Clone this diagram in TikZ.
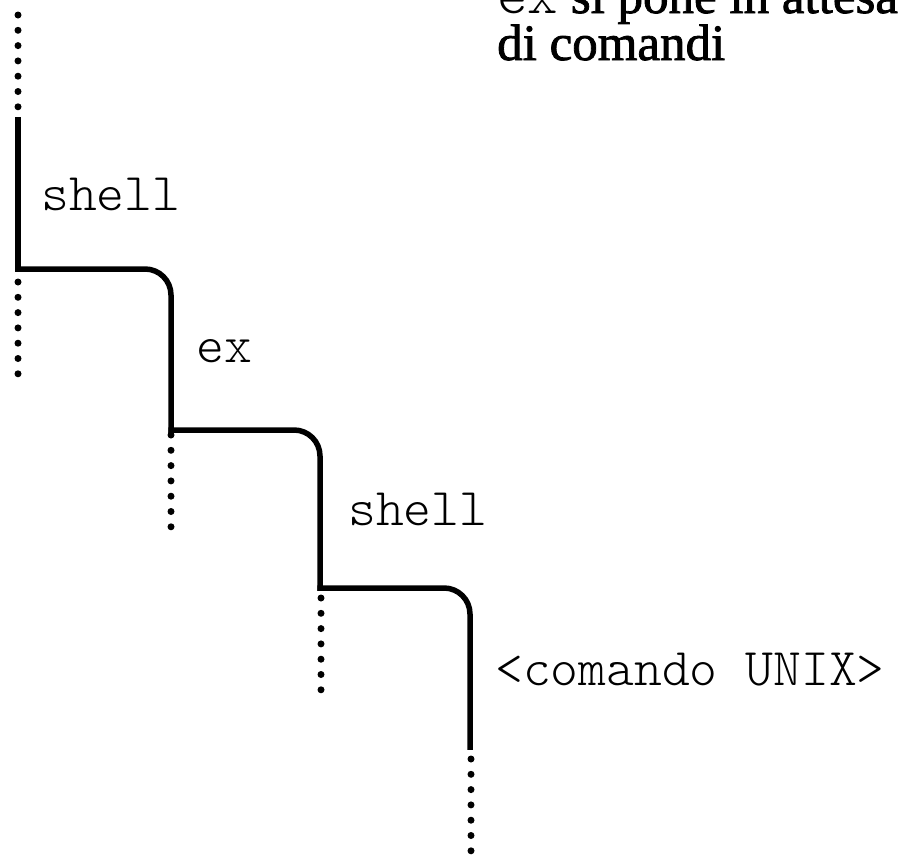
\documentclass[tikz,border=0pt]{standalone}
\usepackage{fontspec}
\setmainfont{Liberation Serif}
\newfontfamily\courlike{lmmonolt10-regular.otf}
\newfontfamily\titlefont[FakeBold=1.6]{Liberation Serif}
\begin{document}
\begin{tikzpicture}[x=1pt,y=-1pt,
  solidline/.style={line width=5.5pt, line cap=rect, line join=miter},
  stepcorner/.style={solidline, rounded corners=26pt},
  dotline/.style={line width=7pt, line cap=round, dash pattern=on 0pt off 15.3pt},
  lbl/.style={font=\fontsize{53}{56}\selectfont\courlike, inner sep=0pt, anchor=base west},
  ttl/.style={font=\fontsize{51}{53}\selectfont\titlefont, inner sep=0pt, anchor=base west}]
\useasboundingbox (0,0) rectangle (898,855);
% path points
\coordinate (a0) at (18,120);
\coordinate (a1) at (18,269);
\coordinate (b1) at (171,269);
\coordinate (b2) at (171,430);
\coordinate (c1) at (320,430);
\coordinate (c2) at (320,588);
\coordinate (d1) at (470,588);
\coordinate (d2) at (470,747);
% dotted continuations
\coordinate (t0) at (18,15);  \coordinate (t1) at (18,107);
\coordinate (u0) at (18,282); \coordinate (u1) at (18,374);
\coordinate (v0) at (171,435); \coordinate (v1) at (171,527);
\coordinate (w0) at (321,598); \coordinate (w1) at (321,690);
\coordinate (z0) at (471,759); \coordinate (z1) at (471,851);
% solid staircase
\draw[solidline] (a0) -- (a1);
\draw[stepcorner] (a1) -- (b1) -- (b2);
\draw[stepcorner] (b2) -- (c1) -- (c2);
\draw[stepcorner] (c2) -- (d1) -- (d2);
% dotted lines
\draw[dotline] (t0) -- (t1);
\draw[dotline] (u0) -- (u1);
\draw[dotline] (v0) -- (v1);
\draw[dotline] (w0) -- (w1);
\draw[dotline] (z0) -- (z1);
% labels
\node[lbl] (sh1) at (41,210) {shell};
\node[lbl] (ex) at (196,362) {ex};
\node[lbl] (sh2) at (348,525) {shell};
\node[lbl] (cmd) at (495,685) {<comando UNIX>};
\node[ttl] (title1) at (497,13) {{\fontsize{58}{60}\selectfont\courlike ex} si pone in attesa};
\node[ttl] (title2) at (497,60) {di comandi};
\end{tikzpicture}
\end{document}
